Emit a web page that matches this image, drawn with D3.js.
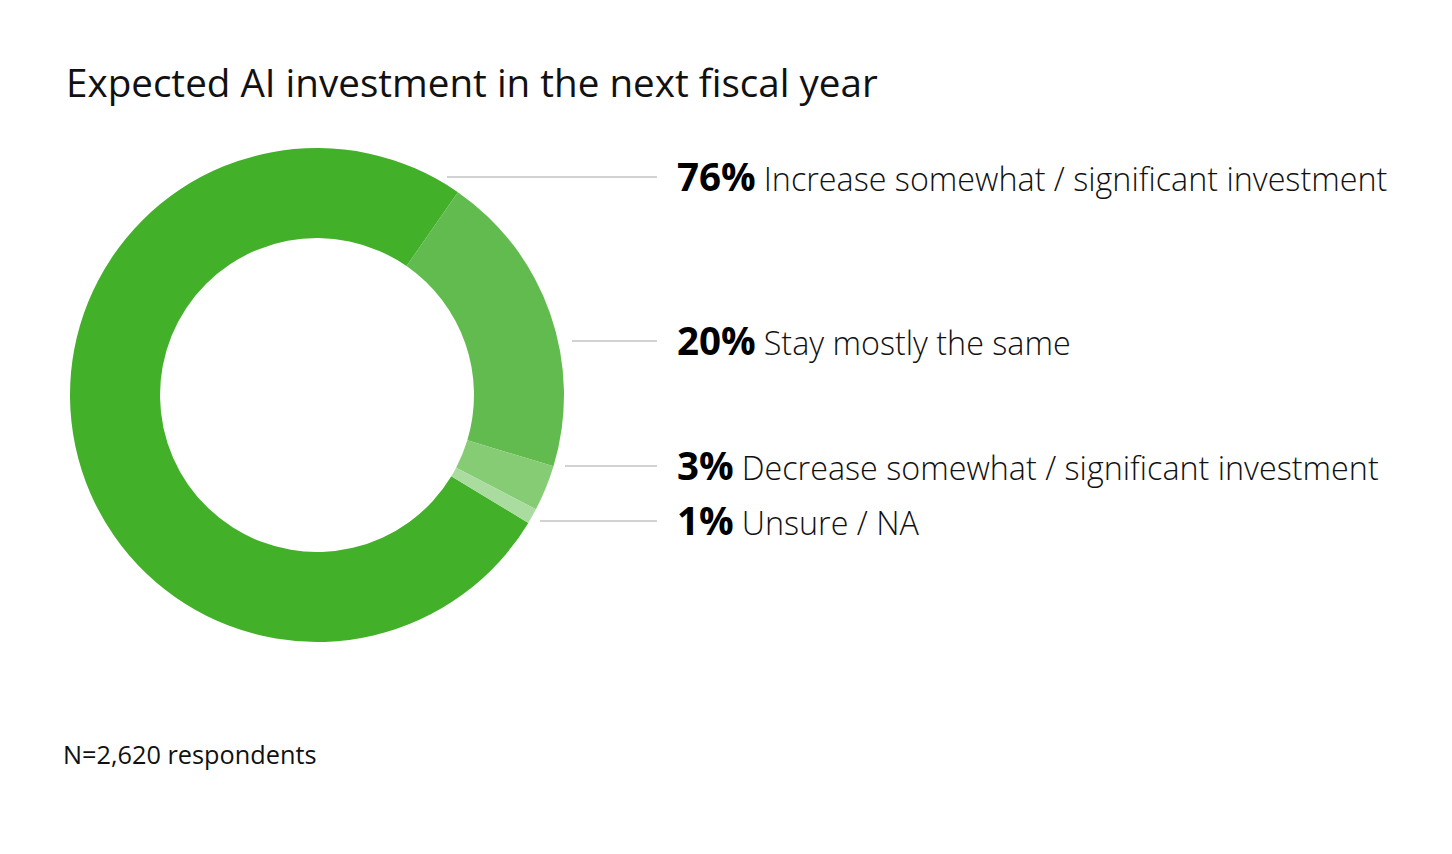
<!DOCTYPE html>
<html>
<head>
<meta charset="utf-8">
<script src="https://cdn.jsdelivr.net/npm/d3@7"></script>
<style>
  body { margin: 0; background: #fff; }
  svg { font-family: "Open Sans", "Noto Sans", sans-serif; }
</style>
</head>
<body>
<svg id="chart" width="1452" height="854"></svg>
<script>
// chart data
const categories = [
  "Increase somewhat / significant investment",
  "Stay mostly the same",
  "Decrease somewhat / significant investment",
  "Unsure / NA",
];
const values = [76, 20, 3, 1];
const colors = ["#43b02a", "#62bb4e", "#86cc74", "#aadca0"];
const labelY = [177, 341, 466, 521];
const lineStartX = [447, 572, 565, 540];

const svg = d3.select("#chart");
const cx = 317, cy = 395;
const outerR = 247, innerR = 157;

svg.append("text")
  .attr("x", 66)
  .attr("y", 97)
  .attr("font-size", 38.6)
  .attr("fill", "#111")
  .text("Expected AI investment in the next fiscal year");

const pie = d3.pie().sort(null).value(d => d)
  .startAngle(2.115).endAngle(2.115 + 2 * Math.PI);
const arc = d3.arc().innerRadius(innerR).outerRadius(outerR);

const g = svg.append("g").attr("transform", `translate(${cx},${cy})`);
g.selectAll("path")
  .data(pie(values))
  .join("path")
  .attr("d", arc)
  .attr("fill", (d, i) => colors[i]);

// leader lines + labels
const labels = svg.append("g");
values.forEach((v, i) => {
  labels.append("line")
    .attr("x1", lineStartX[i]).attr("x2", 657)
    .attr("y1", labelY[i]).attr("y2", labelY[i])
    .attr("stroke", "#d2d2d2")
    .attr("stroke-width", 2);
  const t = labels.append("text")
    .attr("x", 677)
    .attr("y", labelY[i] + 14)
    .attr("fill", "#000");
  t.append("tspan")
    .attr("font-size", 38.5)
    .attr("font-weight", 700)
    .text(v + "%");
  t.append("tspan")
    .attr("font-size", 32.3)
    .attr("font-weight", 300)
    .attr("fill", "#111")
    .attr("dx", 8)
    .text(categories[i]);
});

svg.append("text")
  .attr("x", 63)
  .attr("y", 764)
  .attr("font-size", 25.3)
  .attr("fill", "#111")
  .text("N=2,620 respondents");
</script>
</body>
</html>
